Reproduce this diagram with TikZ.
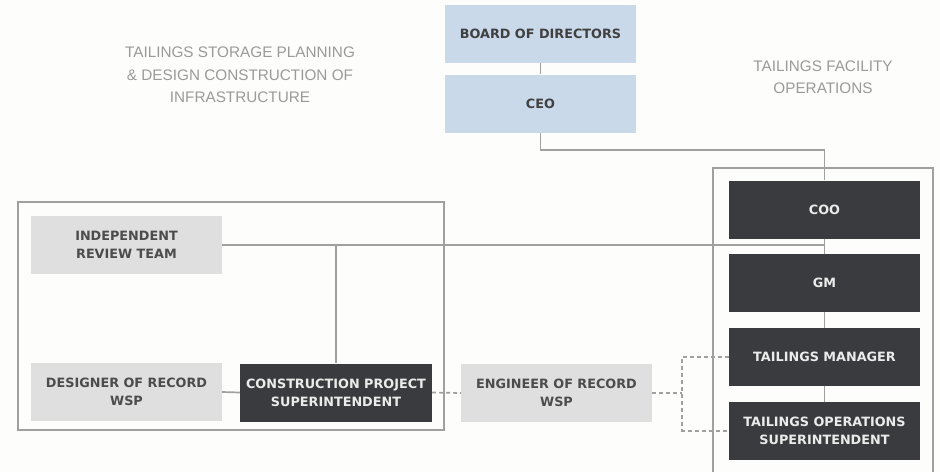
\documentclass[tikz,border=0pt]{standalone}
\usepackage{fontspec}
\setmainfont{DejaVu Sans}
\newfontfamily\titlefont{Liberation Sans}
\usetikzlibrary{positioning}

\definecolor{bluebox}{HTML}{CAD9EA}
\definecolor{greybox}{HTML}{DFDFDF}
\definecolor{darkbox}{HTML}{3A3B3E}
\definecolor{linegrey}{HTML}{A0A0A0}
\definecolor{titlegrey}{HTML}{9A9A9A}
\definecolor{paper}{HTML}{FDFDFB}

\tikzset{
  box/.style={minimum width=191pt, minimum height=58pt, inner sep=0pt, align=center,
    font=\fontsize{12.8}{18.3}\selectfont\bfseries},
  bluebox/.style={box, fill=bluebox, text=black!75},
  greybox/.style={box, fill=greybox, text=black!70},
  darkbox/.style={box, fill=darkbox, text=white!92!black},
  conn/.style={draw=linegrey, line width=1.7pt},
  dotconn/.style={conn, dash pattern=on 4pt off 3pt},
  grouptitle/.style={align=center, text=titlegrey, font=\titlefont\fontsize{15.3}{22.5}\selectfont}
}

\begin{document}
\begin{tikzpicture}[x=1pt, y=-1pt]
    % Hintergrund
    \fill[paper] (0,0) rectangle (940,472);
    \useasboundingbox (0,0) rectangle (940,472);
    % Gruppen
    \draw[conn] (18,202) rectangle (444,430);
    \draw[conn] (713,472)--(713,168)--(933,168)--(933,472);
    \node[grouptitle] (planning) at (240,75) {TAILINGS STORAGE PLANNING\\\& DESIGN CONSTRUCTION OF\\INFRASTRUCTURE};
    \node[grouptitle] (operations) at (823,77) {TAILINGS FACILITY\\OPERATIONS};
    % Leitung
    \node[bluebox] (board) at (540.5,34) {BOARD OF DIRECTORS};
    \node[bluebox] (ceo) at (540.5,103.5) {CEO};
    % Betrieb
    \node[darkbox] (coo) at (824.5,209.5) {COO};
    \node[darkbox] (gm) at (824.5,283) {GM};
    \node[darkbox] (manager) at (824.5,357) {TAILINGS MANAGER};
    \node[darkbox] (opsuper) at (824.5,431) {TAILINGS OPERATIONS\\SUPERINTENDENT};
    % Planung
    \node[greybox] (review) at (126.5,245) {INDEPENDENT\\REVIEW TEAM};
    \node[greybox] (designer) at (126.5,392) {DESIGNER OF RECORD\\WSP};
    \node[darkbox, minimum width=192pt] (cpsuper) at (336,392.5) {CONSTRUCTION PROJECT\\SUPERINTENDENT};
    \node[greybox] (engineer) at (556.5,393) {ENGINEER OF RECORD\\WSP};
    % Linien
    \draw[conn] (board.south)--(ceo.north);
    \draw[conn] (ceo.south)--++(0,17)-|(coo.north);
    \draw[conn] (coo.south)--(gm.north);
    \draw[conn] (gm.south)--(manager.north);
    \draw[conn] (manager.south)--(opsuper.north);
    \draw[conn] (review.east)--(review.east -| coo.south);
    \draw[conn] (cpsuper.north)--(cpsuper.north |- review.east);
    \draw[conn] (designer.east)--(cpsuper.west);
    % gestrichelt
    \draw[dotconn] (cpsuper.east)--(engineer.west);
    \draw[dotconn] (engineer.east)--++(30,0) coordinate (split);
    \draw[dotconn] (manager.west)-|(split)|-(opsuper.west);
\end{tikzpicture}
\end{document}
